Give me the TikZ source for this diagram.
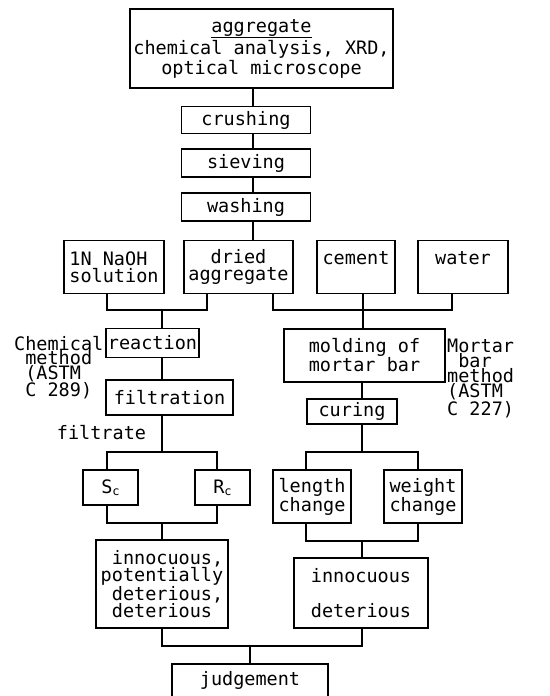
\documentclass[tikz,border=0pt]{standalone}
\usepackage{fontspec}
\newfontfamily\diagf{DejaVu Sans Mono}
\newcommand\dfont{\diagf\fontsize{18.5}{17}\selectfont}
\newcommand\indsp{\hphantom{x}}
\begin{document}
\begin{tikzpicture}[x=1pt,y=-1pt,
  box/.style={draw, line width=1.1pt, inner sep=0pt, font=\dfont, align=center},
  conn/.style={line width=1.1pt},
  lbl/.style={inner sep=0pt, font=\dfont, align=left}]
\useasboundingbox (0,0) rectangle (549,696);
% boxes
\node[box, minimum width=263, minimum height=79] (agg) at (261.5,48.5) {\underline{aggregate}\\[1pt]chemical analysis, XRD,\\[1pt]optical microscope};
\node[box, minimum width=129, minimum height=27] (crush) at (246,120) {crushing};
\node[box, minimum width=129, minimum height=28] (sieve) at (246,163) {sieving};
\node[box, minimum width=129, minimum height=28] (wash) at (246,207) {washing};
\node[box, minimum width=100, minimum height=53, align=left] (naoh) at (114,267) {1N NaOH\\solution};
\node[box, minimum width=109, minimum height=53] (dried) at (238.5,267) {dried\\aggregate};
\node[box, minimum width=78, minimum height=53] (cement) at (356,267) {cement\\\phantom{x}};
\node[box, minimum width=90, minimum height=53] (water) at (463,267) {water\\\phantom{x}};
\node[box, minimum width=93, minimum height=29] (react) at (152.5,343) {reaction};
\node[box, minimum width=127, minimum height=35] (filt) at (169.5,397.5) {filtration};
\node[box, minimum width=161, minimum height=53] (mold) at (364.5,355.5) {molding of\\mortar bar};
\node[box, minimum width=90, minimum height=25] (cure) at (352,411.5) {curing};
\node[box, minimum width=55, minimum height=35] (sc) at (110.5,487.5) {S\raisebox{-2pt}{\fontsize{12}{12}\selectfont c}};
\node[box, minimum width=55, minimum height=35] (rc) at (222.5,487.5) {R\raisebox{-2pt}{\fontsize{12}{12}\selectfont c}};
\node[box, minimum width=78, minimum height=53] (len) at (312,496.5) {length\\change};
\node[box, minimum width=78, minimum height=53] (wt) at (423,496.5) {weight\\change};
\node[box, minimum width=132, minimum height=88, align=left] (inna) at (162,584) {\indsp innocuous,\\potentially\\\indsp deterious,\\\indsp deterious};
\node[box, minimum width=134, minimum height=70] (innb) at (361,593) {innocuous\\[18pt]deterious};
\node[box, minimum width=156, minimum height=46] (judge) at (250,687) {judgement\\\phantom{x}};
% labels
\node[lbl, anchor=north west, font=\diagf\fontsize{18.5}{14.5}\selectfont] (chem) at (14,336) {Chemical\\\indsp method\\\indsp(ASTM\\\indsp C 289)};
\node[lbl, anchor=north west, font=\diagf\fontsize{18.5}{15}\selectfont] (mort) at (447,339) {Mortar\\\indsp bar\\method\\(ASTM\\C 227)};
\node[lbl] (filtrate) at (101.5,433) {filtrate};
% coordinates
\coordinate (xA) at (253,0);
\coordinate (xNa) at (107,0);
\coordinate (xDl) at (207,0);
\coordinate (xDr) at (273,0);
\coordinate (xCe) at (363,0);
\coordinate (xWa) at (452,0);
\coordinate (xL) at (107,0);
\coordinate (xR) at (217,0);
\coordinate (xLe) at (306,0);
\coordinate (xWe) at (418,0);
\coordinate (xC) at (162,0);
\coordinate (xM) at (362,0);
\coordinate (j1) at (162,310);
\coordinate (j2) at (363,310);
\coordinate (j3) at (162,452);
\coordinate (j4) at (362,452);
\coordinate (j5) at (162,523);
\coordinate (j6) at (362,541);
\coordinate (j7) at (250,646);
% connectors
\draw[conn] (agg.south -| xA) -- (crush.north -| xA);
\draw[conn] (crush.south -| xA) -- (sieve.north -| xA);
\draw[conn] (sieve.south -| xA) -- (wash.north -| xA);
\draw[conn] (wash.south -| xA) -- (dried.north -| xA);
\draw[conn] (naoh.south -| xNa) |- (j1) -| (dried.south -| xDl);
\draw[conn] (j1) -- (react.north -| j1);
\draw[conn] (dried.south -| xDr) |- (j2) -| (water.south -| xWa);
\draw[conn] (cement.south -| xCe) -- (j2) -- (mold.north -| j2);
\draw[conn] (react.south -| xC) -- (filt.north -| xC);
\draw[conn] (filt.south -| xC) -- (j3);
\draw[conn] (sc.north -| xL) |- (j3) -| (rc.north -| xR);
\draw[conn] (mold.south -| xM) -- (cure.north -| xM);
\draw[conn] (cure.south -| xM) -- (j4);
\draw[conn] (len.north -| xLe) |- (j4) -| (wt.north -| xWe);
\draw[conn] (sc.south -| xL) |- (j5) -| (rc.south -| xR);
\draw[conn] (j5) -- (inna.north -| j5);
\draw[conn] (len.south -| xLe) |- (j6) -| (wt.south -| xWe);
\draw[conn] (j6) -- (innb.north -| j6);
\draw[conn] (inna.south -| xC) |- (j7) -| (innb.south -| xM);
\draw[conn] (j7) -- (judge.north -| j7);
\end{tikzpicture}
\end{document}
